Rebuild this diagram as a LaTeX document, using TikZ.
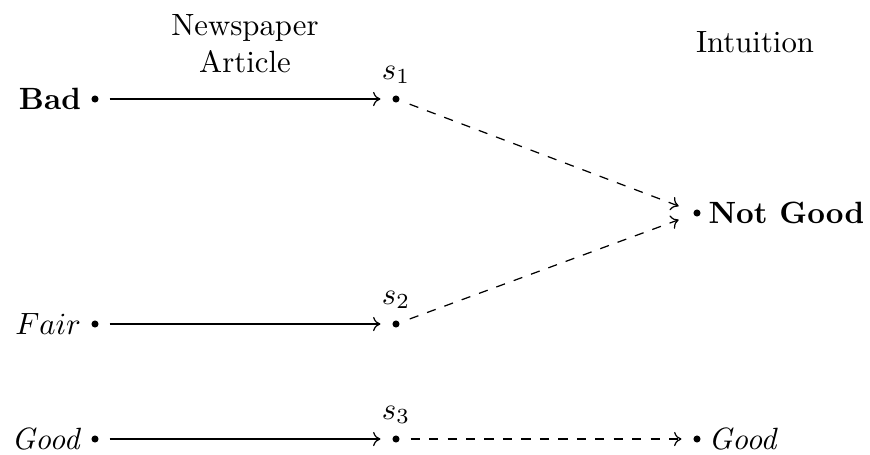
\documentclass[tikz,border=0pt]{standalone}
\usetikzlibrary{arrows.meta}
\begin{document}
\begin{tikzpicture}[x=0.325pt,y=-0.325pt,
  pt/.style={circle,fill,inner sep=0pt,minimum size=2.3pt},
  solidarr/.style={-{To[length=2.4pt,width=4.6pt]},shorten <=3.4pt,shorten >=3.7pt},
  dasharr/.style={-{To[length=2.4pt,width=4.6pt]},dashed,shorten <=3.4pt,shorten >=3.7pt},
  lab/.style={inner sep=0pt}]
\useasboundingbox (0,0) rectangle (870,454);
% column headers
\node[align=center] (hdrA) at (245,44) {Newspaper\\Article};
\node (hdrB) at (755,42) {Intuition};
% source points
\node[pt] (bad) at (95,99) {};
\node[pt] (fair) at (95,324) {};
\node[pt] (good) at (95,439) {};
\node[lab,anchor=east] (badl) at ([xshift=-3pt]bad.west) {\textbf{Bad}};
\node[lab,anchor=east] (fairl) at ([xshift=-3pt]fair.west) {$Fair$};
\node[lab,anchor=east] (goodl) at ([xshift=-3pt]good.west) {\textit{Good}};
% intermediate points
\node[pt] (s1) at (396,99) {};
\node[pt] (s2) at (396,324) {};
\node[pt] (s3) at (396,439) {};
\node (s1l) at (396,75) {$s_1$};
\node (s2l) at (396,300) {$s_2$};
\node (s3l) at (396,415) {$s_3$};
% targets
\node[pt] (ng) at (697,213) {};
\node[pt] (gd) at (697,439) {};
\node[lab,anchor=west] (ngl) at ([xshift=2.2pt]ng.east) {\textbf{Not Good}};
\node[lab,anchor=west] (gdl) at ([xshift=2.2pt]gd.east) {\textit{Good}};
% maps
\draw[solidarr] (bad) -- (s1);
\draw[solidarr] (fair) -- (s2);
\draw[solidarr] (good) -- (s3);
\draw[dasharr,shorten >=5pt] (s1) -- (ng);
\draw[dasharr,shorten >=5pt] (s2) -- (ng);
\draw[dasharr] (s3) -- (gd);
\end{tikzpicture}
\end{document}
